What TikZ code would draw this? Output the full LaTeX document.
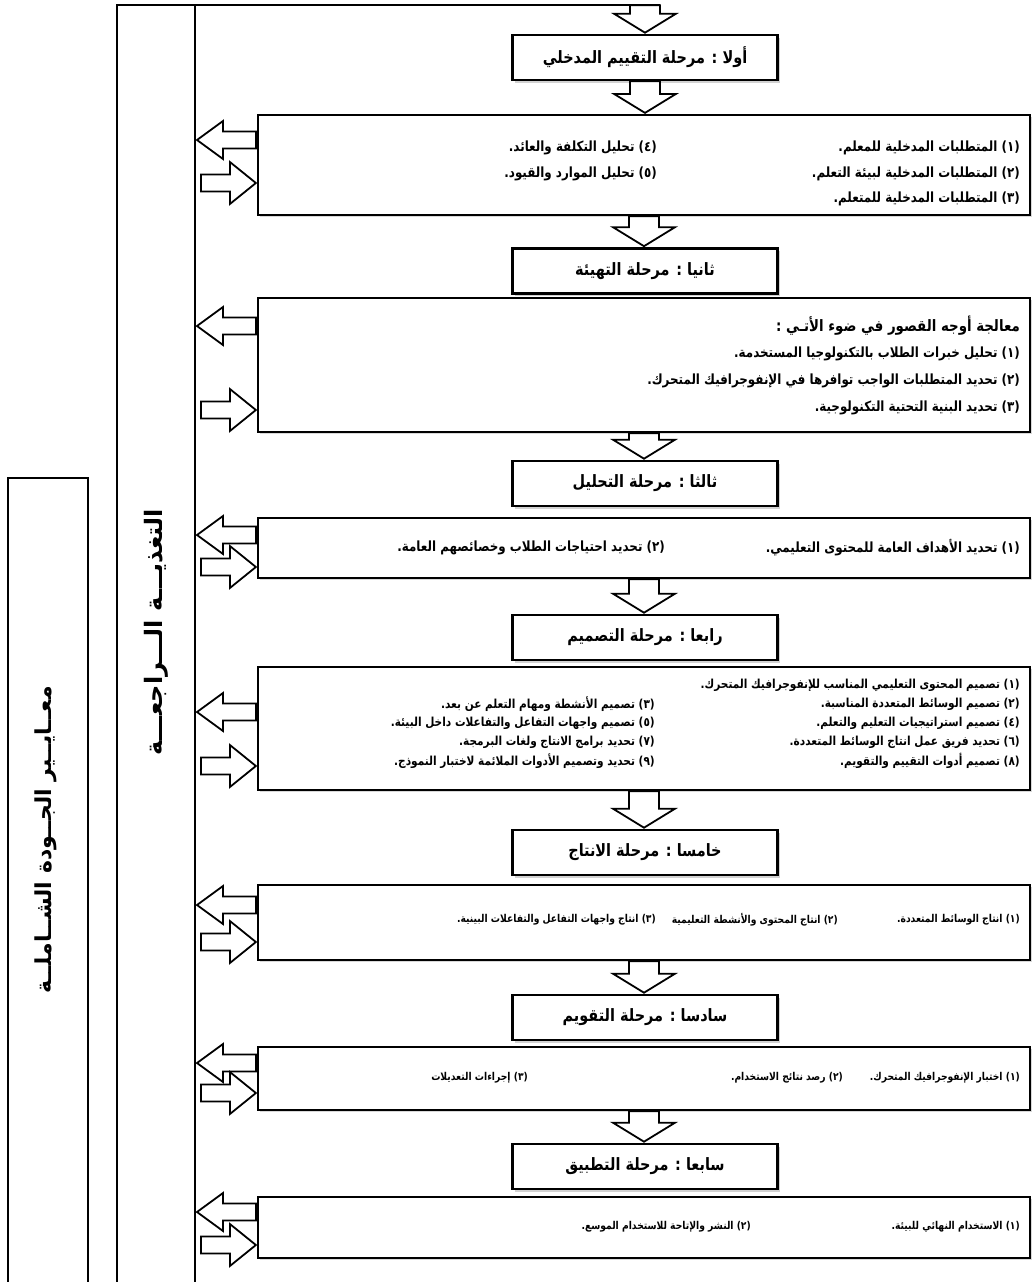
\documentclass[tikz,border=0pt]{standalone}
\usepackage{fontspec}
\newfontfamily\arabicfont[Script=Arabic, FakeStretch=0.85]{DejaVu Sans}
\newfontfamily\arabicplain[Script=Arabic]{DejaVu Sans}
\TeXXeTstate=1
\usetikzlibrary{shadows,calc}
\newcommand\ar[1]{\beginR #1\endR}
\tikzset{
  frameline/.style={line width=2.2pt},
  thinframe/.style={line width=1.8pt},
  titlebox/.style={draw, line width=2.6pt, fill=white, minimum width=265pt, minimum height=45pt, inner sep=0pt,
    drop shadow={shadow xshift=2.5pt, shadow yshift=-2.5pt, opacity=0.35},
    font=\arabicfont\bfseries\fontsize{17}{19}\selectfont},
  contbox/.style={draw, line width=2.2pt, fill=white, minimum width=772pt, inner sep=0pt,
    drop shadow={shadow xshift=2pt, shadow yshift=-2pt, opacity=0.3}},
  itemL/.style={anchor=east, inner sep=0pt, font=\arabicfont\bfseries\fontsize{14}{16}\selectfont},
  itemM/.style={anchor=east, inner sep=0pt, font=\arabicfont\bfseries\fontsize{12.4}{14}\selectfont},
  itemS/.style={anchor=east, inner sep=0pt, font=\arabicfont\bfseries\fontsize{10.8}{13}\selectfont},
  head/.style={anchor=east, inner sep=0pt, font=\arabicfont\bfseries\fontsize{15.7}{18}\selectfont},
  sidetext/.style={rotate=90, inner sep=0pt, font=\arabicplain\bfseries\fontsize{22}{26}\selectfont},
  blk/.style={draw, line width=1.8pt, fill=white, line join=miter},
}
\newcommand\bdown[2]{\draw[blk] let \p1=(#1.south), \p2=(#2.north) in
  (\x1-15pt,\y1) -- (\x1+15pt,\y1) -- (\x1+15pt,\y2+20pt) -- (\x1+31pt,\y2+20pt) -- (\x1,\y2+1pt)
  -- (\x1-31pt,\y2+20pt) -- (\x1-15pt,\y2+20pt) -- cycle;}
\newcommand\bleft[2]{\draw[blk] let \p1=(#1.west), \p2=(spine) in
  (\x1-1pt,-#2pt+8.5pt) -- (\x2+28pt,-#2pt+8.5pt) -- (\x2+28pt,-#2pt+19pt) -- (\x2+2pt,-#2pt)
  -- (\x2+28pt,-#2pt-19pt) -- (\x2+28pt,-#2pt-8.5pt) -- (\x1-1pt,-#2pt-8.5pt) -- cycle;}
\newcommand\bright[2]{\draw[blk] let \p1=(#1.west), \p2=(spine) in
  (\x2+6pt,-#2pt+8.5pt) -- (\x1-27pt,-#2pt+8.5pt) -- (\x1-27pt,-#2pt+21pt) -- (\x1-1pt,-#2pt)
  -- (\x1-27pt,-#2pt-21pt) -- (\x1-27pt,-#2pt-8.5pt) -- (\x2+6pt,-#2pt-8.5pt) -- cycle;}
\begin{document}
\begin{tikzpicture}[x=1pt,y=-1pt]
\useasboundingbox (0,0) rectangle (1032,1282);
\fill[white] (0,0) rectangle (1032,1282);
% outer frames
\coordinate (spine) at (195,0);
\draw[thinframe] (8,1290) -- (8,478) -- (88,478) -- (88,1290);
\draw[frameline] (117,1290) -- (117,5) -- (660,5);
\draw[frameline] (195,5) -- (195,1290);
\node[sidetext] (crit) at (46,840) {\ar{معــايــير الجــودة الشــاملــة}};
\node[sidetext, font=\arabicplain\bfseries\fontsize{24}{28}\selectfont] (feed) at (156,632) {\ar{التغذيـــة الـــراجعـــة}};
\node[inner sep=0pt, minimum size=0pt] (topin) at (645,5) {};
% stages
\node[titlebox] (t1) at (645,57.5) {\ar{أولا : مرحلة التقييم المدخلي}};
\node[contbox, minimum height=100pt] (c1) at (644,165) {};
\node[titlebox] (t2) at (645,271) {\ar{ثانيا : مرحلة التهيئة}};
\node[contbox, minimum height=134pt] (c2) at (644,365) {};
\node[titlebox] (t3) at (645,483.5) {\ar{ثالثا : مرحلة التحليل}};
\node[contbox, minimum height=60pt] (c3) at (644,548) {};
\node[titlebox] (t4) at (645,637.5) {\ar{رابعا : مرحلة التصميم}};
\node[contbox, minimum height=123pt] (c4) at (644,728.5) {};
\node[titlebox] (t5) at (645,852.5) {\ar{خامسا : مرحلة الانتاج}};
\node[contbox, minimum height=75pt] (c5) at (644,922.5) {};
\node[titlebox] (t6) at (645,1017.5) {\ar{سادسا : مرحلة التقويم}};
\node[contbox, minimum height=63pt] (c6) at (644,1078.5) {};
\node[titlebox] (t7) at (645,1166.5) {\ar{سابعا : مرحلة التطبيق}};
\node[contbox, minimum height=61pt] (c7) at (644,1227.5) {};
% down arrows
\bdown{topin}{t1}
\bdown{t1}{c1}
\bdown{c1}{t2}
\bdown{c2}{t3}
\bdown{c3}{t4}
\bdown{c4}{t5}
\bdown{c5}{t6}
\bdown{c6}{t7}
% side arrows
\bleft{c1}{140}  \bright{c1}{183}
\bleft{c2}{326}  \bright{c2}{410}
\bleft{c3}{535}  \bright{c3}{567}
\bleft{c4}{712}  \bright{c4}{766}
\bleft{c5}{905}  \bright{c5}{942}
\bleft{c6}{1063} \bright{c6}{1093}
\bleft{c7}{1212} \bright{c7}{1245}
% box 1
\node[itemL] (c1a) at (1020,148) {\ar{(١) المتطلبات المدخلية للمعلم.}};
\node[itemL] (c1b) at (1020,174) {\ar{(٢) المتطلبات المدخلية لبيئة التعلم.}};
\node[itemL] (c1c) at (1020,199) {\ar{(٣) المتطلبات المدخلية للمتعلم.}};
\node[itemL] (c1d) at (657,148) {\ar{(٤) تحليل التكلفة والعائد.}};
\node[itemL] (c1e) at (657,174) {\ar{(٥) تحليل الموارد والقيود.}};
% box 2
\node[head] (c2h) at (1020,326) {\ar{معالجة أوجه القصور في ضوء الأتـي :}};
\node[itemL] (c2a) at (1020,354) {\ar{(١) تحليل خبرات الطلاب بالتكنولوجيا المستخدمة.}};
\node[itemL] (c2b) at (1020,381) {\ar{(٢) تحديد المتطلبات الواجب توافرها في الإنفوجرافيك المتحرك.}};
\node[itemL] (c2c) at (1020,408) {\ar{(٣) تحديد البنية التحتية التكنولوجية.}};
% box 3
\node[itemL] (c3a) at (1020,548) {\ar{(١) تحديد الأهداف العامة للمحتوى التعليمي.}};
\node[itemL] (c3b) at (665,548) {\ar{(٢) تحديد احتياجات الطلاب وخصائصهم العامة.}};
% box 4
\node[itemM] (c4a) at (1020,685) {\ar{(١) تصميم المحتوى التعليمي المناسب للإنفوجرافيك المتحرك.}};
\node[itemM] (c4b) at (1020,704) {\ar{(٢) تصميم الوسائط المتعددة المناسبة.}};
\node[itemM] (c4c) at (655,704) {\ar{(٣) تصميم الأنشطة ومهام التعلم عن بعد.}};
\node[itemM] (c4d) at (1020,723) {\ar{(٤) تصميم استراتيجيات التعليم والتعلم.}};
\node[itemM] (c4e) at (655,723) {\ar{(٥) تصميم واجهات التفاعل والتفاعلات داخل البيئة.}};
\node[itemM] (c4f) at (1020,742) {\ar{(٦) تحديد فريق عمل انتاج الوسائط المتعددة.}};
\node[itemM] (c4g) at (655,742) {\ar{(٧) تحديد برامج الانتاج ولغات البرمجة.}};
\node[itemM] (c4h) at (1020,761) {\ar{(٨) تصميم أدوات التقييم والتقويم.}};
\node[itemM] (c4i) at (655,761) {\ar{(٩) تحديد وتصميم الأدوات الملائمة لاختبار النموذج.}};
% box 5
\node[itemS] (c5a) at (1020,920) {\ar{(١) انتاج الوسائط المتعددة.}};
\node[itemS] (c5b) at (838,920) {\ar{(٢) انتاج المحتوى والأنشطة التعليمية}};
\node[itemS] (c5c) at (656,920) {\ar{(٣) انتاج واجهات التفاعل والتفاعلات البينية.}};
% box 6
\node[itemS] (c6a) at (1020,1078) {\ar{(١) اختبار الإنفوجرافيك المتحرك.}};
\node[itemS] (c6b) at (843,1078) {\ar{(٢) رصد نتائج الاستخدام.}};
\node[itemS] (c6c) at (528,1078) {\ar{(٣) إجراءات التعديلات}};
% box 7
\node[itemS] (c7a) at (1020,1227) {\ar{(١) الاستخدام النهائي للبيئة.}};
\node[itemS] (c7b) at (751,1227) {\ar{(٢) النشر والإتاحة للاستخدام الموسع.}};
\end{tikzpicture}
\end{document}
